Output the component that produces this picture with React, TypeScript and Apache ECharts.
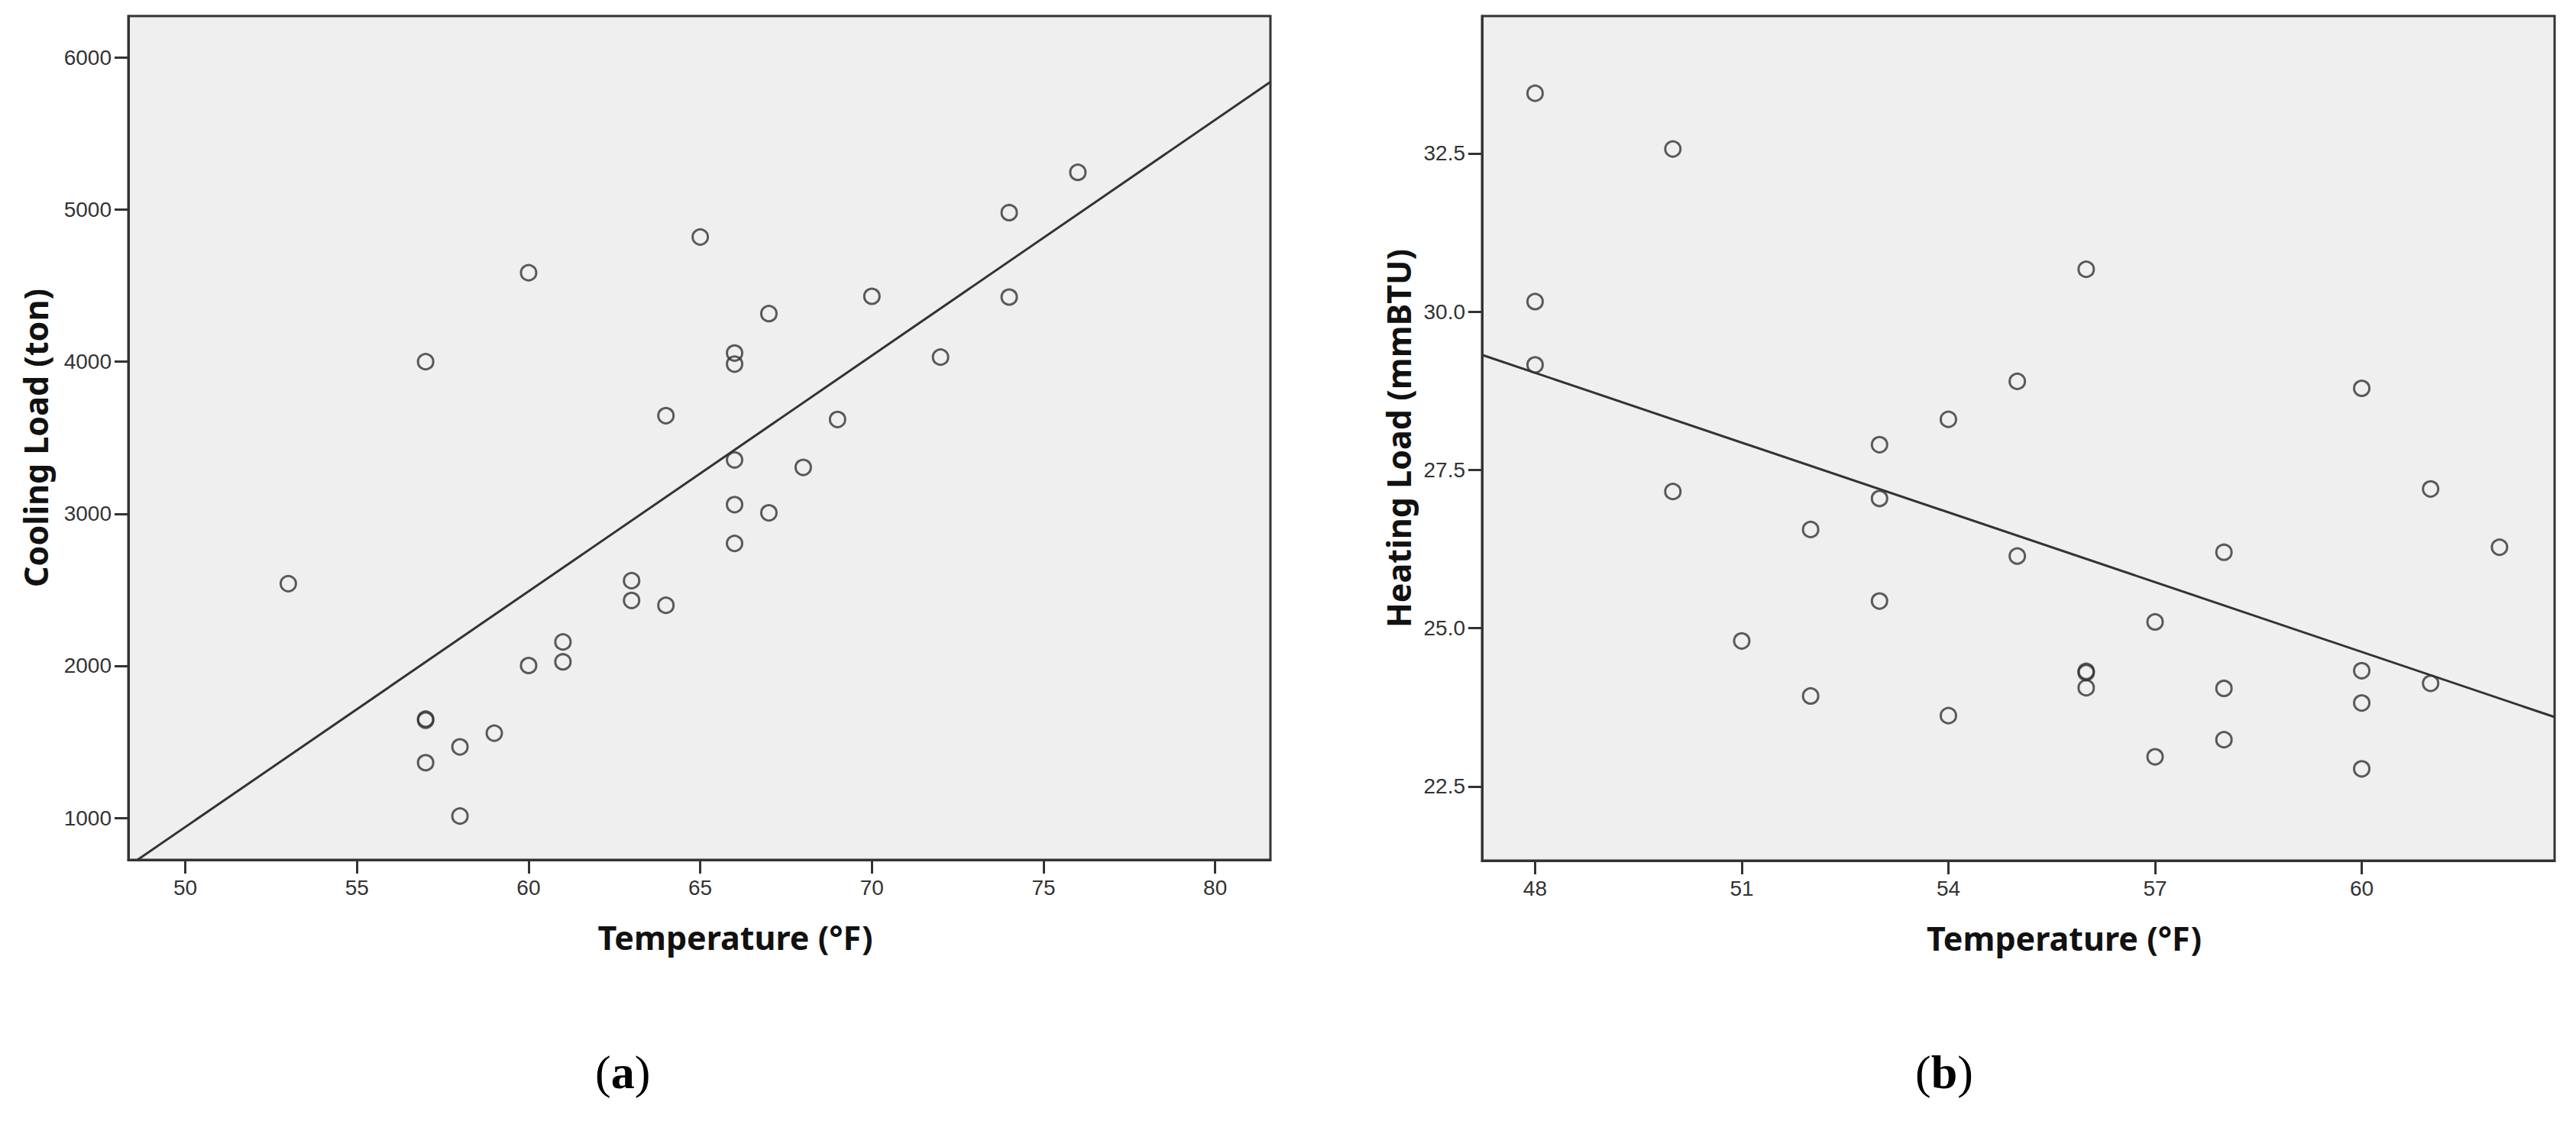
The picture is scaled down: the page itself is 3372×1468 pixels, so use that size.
import React, { useEffect, useRef } from "react";
import * as echarts from "echarts";

// ---- Panel (a): Cooling load vs temperature ----
const coolTemp = [53, 57, 57, 57, 57, 58, 58, 59, 60, 60, 61, 61, 63, 63, 64, 64, 65, 66, 66, 66, 66, 66, 67, 67, 68, 69, 70, 72, 74, 74, 76];
const coolLoad = [2540, 4000, 1650, 1642, 1363, 1467, 1012, 1557, 4585, 2002, 2157, 2026, 2560, 2430, 3645, 2398, 4820, 4057, 3984, 3354, 3060, 2805, 4316, 3006, 3305, 3620, 4430, 4030, 4980, 4425, 5245];
const coolFit = { intercept: -6810, slope: 155 };
const coolXRange = [48.34, 81.61];
const coolYRange = [724, 6273];
const coolXTicks = [50, 55, 60, 65, 70, 75, 80];
const coolYTicks = [1000, 2000, 3000, 4000, 5000, 6000];

// ---- Panel (b): Heating load vs temperature ----
const heatTemp = [48, 48, 48, 50, 50, 51, 52, 52, 53, 53, 53, 54, 54, 55, 55, 56, 56, 56, 56, 57, 57, 58, 58, 58, 60, 60, 60, 60, 61, 61, 62];
const heatLoad = [33.45, 30.16, 29.16, 32.57, 27.16, 24.8, 26.56, 23.93, 27.9, 27.05, 25.43, 28.3, 23.62, 28.9, 26.14, 30.67, 24.32, 24.3, 24.06, 25.1, 22.97, 26.2, 24.05, 23.24, 28.79, 24.33, 23.82, 22.78, 27.2, 24.13, 26.28];
const heatFit = { intercept: 46.67, slope: -0.3674 };
const heatXRange = [47.23, 62.8];
const heatYRange = [21.33, 34.67];
const heatXTicks = [48, 51, 54, 57, 60];
const heatYTicks = [22.5, 25, 27.5, 30, 32.5];

const xTitle = "Temperature (°F)";
const coolYTitle = "Cooling Load (ton)";
const heatYTitle = "Heating Load (mmBTU)";

const INK = "#333333";

function pairs(xs: number[], ys: number[]) {
  return xs.map((x, i) => [x, ys[i]]);
}
function fitLine(fit: { intercept: number; slope: number }, range: number[]) {
  return range.map((x) => [x, fit.intercept + fit.slope * x]);
}

function axisCommon(ticks: number[], fmt: (v: number) => string) {
  return {
    type: "value" as const,
    axisLine: { show: true, onZero: false, lineStyle: { color: INK, width: 3 } },
    axisTick: { show: true, inside: false, length: 18, customValues: ticks, lineStyle: { color: INK, width: 3 } },
    axisLabel: {
      customValues: ticks,
      margin: 22,
      fontSize: 28,
      color: "#333333",
      fontFamily: "Liberation Sans",
      formatter: (v: number) => fmt(v),
    },
    splitLine: { show: false },
  };
}

const plain = (v: number) => String(v);
const oneDec = (v: number) => v.toFixed(1);

const titleStyle = {
  fontFamily: "Noto Sans",
  fontWeight: "bold" as const,
  fontSize: 43,
  color: "#111111",
};

export default function App() {
  const ref = useRef<HTMLDivElement>(null);
  useEffect(() => {
    if (!ref.current) return;
    const chart = echarts.init(ref.current, undefined, { renderer: "svg" });
    const scatterStyle = {
      color: "rgba(0,0,0,0)",
      borderColor: INK,
      borderWidth: 3,
    };
    chart.setOption({
      animation: false,
      backgroundColor: "#ffffff",
      grid: [
        { left: 168, top: 21, width: 1495, height: 1105, show: true, backgroundColor: "#efefef", borderColor: INK, borderWidth: 3 },
        { left: 1940, top: 21, width: 1404, height: 1106, show: true, backgroundColor: "#efefef", borderColor: INK, borderWidth: 3 },
      ],
      xAxis: [
        {
          ...axisCommon(coolXTicks, plain),
          gridIndex: 0,
          min: coolXRange[0],
          max: coolXRange[1],
          name: xTitle,
          nameLocation: "middle",
          nameGap: 80,
          nameTextStyle: { ...titleStyle, padding: [0, 0, 0, 94] },
        },
        {
          ...axisCommon(heatXTicks, plain),
          gridIndex: 1,
          min: heatXRange[0],
          max: heatXRange[1],
          name: xTitle,
          nameLocation: "middle",
          nameGap: 80,
          nameTextStyle: { ...titleStyle, padding: [0, 0, 0, 120] },
        },
      ],
      yAxis: [
        {
          ...axisCommon(coolYTicks, plain),
          gridIndex: 0,
          min: coolYRange[0],
          max: coolYRange[1],
          name: coolYTitle,
          nameLocation: "middle",
          nameGap: 100,
          nameTextStyle: { ...titleStyle },
        },
        {
          ...axisCommon(heatYTicks, oneDec),
          gridIndex: 1,
          min: heatYRange[0],
          max: heatYRange[1],
          name: heatYTitle,
          nameLocation: "middle",
          nameGap: 88,
          nameTextStyle: { ...titleStyle },
        },
      ],
      series: [
        {
          type: "scatter",
          xAxisIndex: 0,
          yAxisIndex: 0,
          symbol: "circle",
          symbolSize: 20,
          itemStyle: scatterStyle,
          data: pairs(coolTemp, coolLoad),
          z: 3,
        },
        {
          type: "line",
          xAxisIndex: 0,
          yAxisIndex: 0,
          showSymbol: false,
          clip: true,
          lineStyle: { color: INK, width: 3 },
          data: fitLine(coolFit, coolXRange),
          z: 2,
        },
        {
          type: "scatter",
          xAxisIndex: 1,
          yAxisIndex: 1,
          symbol: "circle",
          symbolSize: 20,
          itemStyle: scatterStyle,
          data: pairs(heatTemp, heatLoad),
          z: 3,
        },
        {
          type: "line",
          xAxisIndex: 1,
          yAxisIndex: 1,
          showSymbol: false,
          clip: true,
          lineStyle: { color: INK, width: 3 },
          data: fitLine(heatFit, heatXRange),
          z: 2,
        },
      ],
      graphic: [
        {
          type: "text",
          left: 817 - 38,
          top: 1411 - 38,
          style: {
            text: "{p|(}{b|a}{p|)}",
            rich: {
              p: { fontFamily: "Liberation Serif", fontSize: 62, fill: "#000" },
              b: { fontFamily: "Liberation Serif", fontSize: 62, fontWeight: "bold", fill: "#000" },
            },
          },
        },
        {
          type: "text",
          left: 2545 - 38,
          top: 1411 - 38,
          style: {
            text: "{p|(}{b|b}{p|)}",
            rich: {
              p: { fontFamily: "Liberation Serif", fontSize: 62, fill: "#000" },
              b: { fontFamily: "Liberation Serif", fontSize: 62, fontWeight: "bold", fill: "#000" },
            },
          },
        },
      ],
    });
    return () => chart.dispose();
  }, []);
  return (
    <div
      ref={ref}
      style={{ position: "fixed", left: 0, top: 0, width: 3372, height: 1468, background: "#fff" }}
    />
  );
}
